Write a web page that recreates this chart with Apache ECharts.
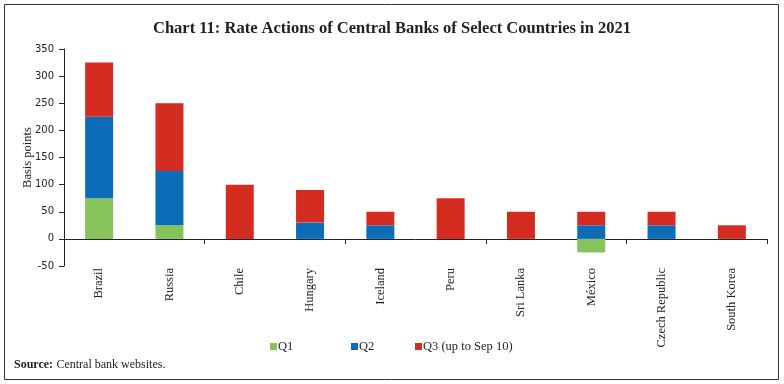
<!DOCTYPE html>
<html><head><meta charset="utf-8">
<script src="https://cdn.jsdelivr.net/npm/echarts@6/dist/echarts.min.js"></script>
<style>html,body{margin:0;padding:0;background:#fff;}#c{width:784px;height:384px;}</style>
</head><body><div id="c"></div>
<script>
const categories = ['Brazil','Russia','Chile','Hungary','Iceland','Peru','Sri Lanka','México','Czech Republic','South Korea'];
const q1 = [75, 25, 0, 0, 0, 0, 0, -25, 0, 0];
const q2 = [150, 100, 0, 30, 25, 0, 0, 25, 25, 0];
const q3 = [100, 125, 100, 60, 25, 75, 50, 25, 25, 25];
const seriesNames = ['Q1','Q2','Q3 (up to Sep 10)'];
const yTicks = {min: -50, max: 350, interval: 50};

const serif = '"Liberation Serif", "DejaVu Serif", serif';
const chart = echarts.init(document.getElementById('c'), null, {renderer: 'canvas'});
const colors = ['#86C35A', '#0B6DB7', '#D42C20'];
const legendLefts = [265, 346, 410];
const legendBase = {
  bottom: 26, itemWidth: 7, itemHeight: 7, icon: 'rect',
  textStyle: {fontFamily: serif, fontSize: 12.5, color: '#222', padding: [0,0,0,-4]}
};
chart.setOption({
  animation: false,
  color: colors,
  title: {
    text: 'Chart 11: Rate Actions of Central Banks of Select Countries in 2021',
    left: 'center', top: 15,
    textStyle: {fontFamily: serif, fontSize: 16.5, fontWeight: 'bold', color: '#222'}
  },
  grid: {left: 64, right: 17, top: 49, bottom: 118, containLabel: false},
  legend: seriesNames.map((n, i) => Object.assign({}, legendBase, {left: legendLefts[i], data: [n]})),
  xAxis: [{
    type: 'category', data: categories,
    axisLine: {onZero: true, lineStyle: {color: '#222', width: 1}},
    axisTick: {show: true, length: 5, lineStyle: {color: '#222'}},
    axisLabel: {show: false}
  }, {
    type: 'category', data: categories, position: 'bottom',
    axisLine: {show: false}, axisTick: {show: false},
    axisLabel: {rotate: 90, fontFamily: serif, fontSize: 12.5, color: '#222', margin: 2, interval: 0}
  }],
  yAxis: {
    type: 'value', min: yTicks.min, max: yTicks.max, interval: yTicks.interval,
    name: 'Basis points', nameLocation: 'middle', nameGap: 30, nameMoveOverlap: false,
    nameTextStyle: {fontFamily: serif, fontSize: 12.5, color: '#222'},
    axisLine: {show: true, onZero: false, lineStyle: {color: '#222'}},
    axisTick: {show: true, length: 5, lineStyle: {color: '#222'}},
    axisLabel: {fontFamily: '"DejaVu Sans", sans-serif', fontSize: 10, color: '#222', margin: 10},
    splitLine: {show: false}
  },
  series: [
    {name: seriesNames[0], type: 'bar', stack: 'a', data: q1, barWidth: 28},
    {name: seriesNames[1], type: 'bar', stack: 'a', data: q2, barWidth: 28},
    {name: seriesNames[2], type: 'bar', stack: 'a', data: q3, barWidth: 28}
  ],
  graphic: [
    {type: 'rect', shape: {x: 4.5, y: 4.5, width: 774, height: 375}, style: {fill: 'none', stroke: '#333', lineWidth: 1}},
    {type: 'text', left: 14, top: 359, style: {rich: {b: {fontWeight: 'bold', fontFamily: serif, fontSize: 12, fill: '#222'}, n: {fontFamily: serif, fontSize: 12, fill: '#222'}}, text: '{b|Source:} {n|Central bank websites.}'}}
  ]
});
</script></body></html>
